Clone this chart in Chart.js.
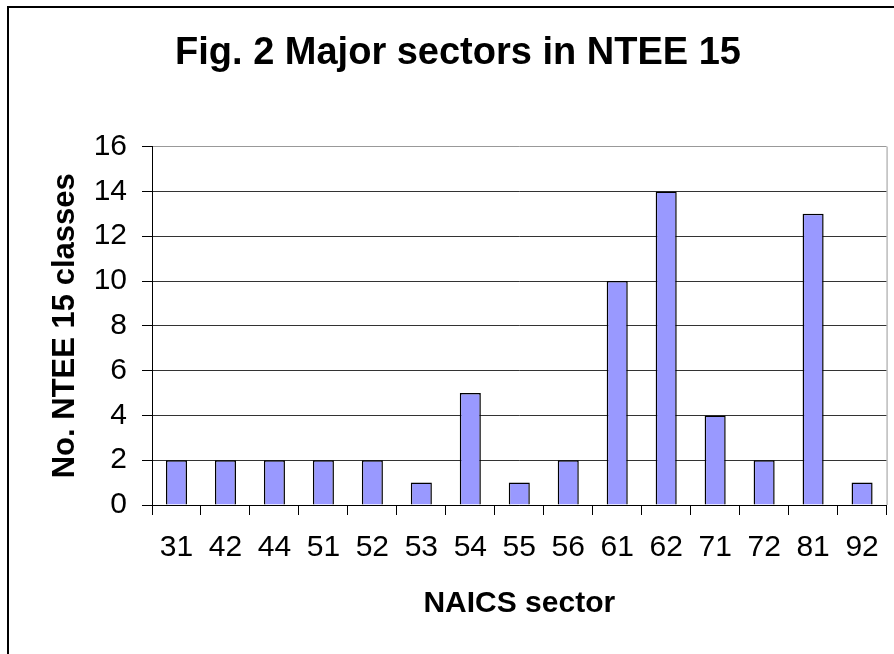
<!DOCTYPE html>
<html>
<head>
<meta charset="utf-8">
<title>Fig. 2 Major sectors in NTEE 15</title>
<script src="https://cdn.jsdelivr.net/npm/chart.js@4"></script>
<style>
  body { margin: 0; background: #fff; }
  canvas { display: block; }
</style>
</head>
<body>
<canvas id="chart" width="894" height="654"></canvas>
<script>
// data
const sectors = ['31', '42', '44', '51', '52', '53', '54', '55', '56', '61', '62', '71', '72', '81', '92'];
const classCounts = [2, 2, 2, 2, 2, 1, 5, 1, 2, 10, 14, 4, 2, 13, 1];
const yTicks = [0, 2, 4, 6, 8, 10, 12, 14, 16];

const FONT = 'Arial, "Liberation Sans", sans-serif';

// white background, outer frame and the grey plot border (Excel style)
const framePlugin = {
    id: 'frame',
    beforeDraw(chart) {
        const ctx = chart.ctx;
        ctx.save();
        ctx.fillStyle = '#fff';
        ctx.fillRect(0, 0, chart.width, chart.height);
        ctx.strokeStyle = '#000';
        ctx.lineWidth = 2;
        ctx.beginPath();
        ctx.moveTo(8, chart.height);
        ctx.lineTo(8, 7);
        ctx.lineTo(chart.width, 7);
        ctx.stroke();
        ctx.restore();
    },
    beforeDatasetsDraw(chart) {
        const { ctx, chartArea } = chart;
        ctx.save();
        ctx.strokeStyle = '#999';
        ctx.lineWidth = 1;
        ctx.beginPath();
        ctx.moveTo(chartArea.right + 0.5, chartArea.top);
        ctx.lineTo(chartArea.right + 0.5, chartArea.bottom);
        ctx.stroke();
        ctx.restore();
    }
};

new Chart(document.getElementById('chart'), {
    type: 'bar',
    data: {
        labels: sectors,
        datasets: [{
            data: classCounts,
            backgroundColor: '#9999ff',
            borderColor: '#000',
            borderWidth: 1.5,
            barPercentage: 0.43,
            categoryPercentage: 1
        }]
    },
    options: {
        responsive: false,
        animation: false,
        layout: { padding: { left: 29, right: 7, top: 0, bottom: 0 } },
        plugins: {
            legend: { display: false },
            tooltip: { enabled: false },
            title: {
                display: true,
                text: 'Fig. 2 Major sectors in NTEE 15',
                color: '#000',
                font: { family: FONT, size: 38, weight: 'bold' },
                padding: { top: 31, bottom: 70 }
            }
        },
        scales: {
            x: {
                offset: true,
                grid: {
                    offset: true,
                    drawOnChartArea: false,
                    drawTicks: true,
                    tickLength: 10,
                    tickColor: '#000'
                },
                border: { color: '#000', width: 1 },
                ticks: {
                    color: '#000',
                    font: { family: FONT, size: 30 },
                    padding: 15,
                    maxRotation: 0,
                    autoSkip: false
                },
                title: {
                    display: true,
                    text: 'NAICS sector',
                    color: '#000',
                    font: { family: FONT, size: 30, weight: 'bold' },
                    padding: { top: 0, bottom: 32 }
                },
                afterFit(scale) { scale.height = 149; }
            },
            y: {
                min: 0,
                max: 16,
                afterBuildTicks(scale) {
                    scale.ticks = yTicks.map(v => ({ value: v }));
                },
                grid: {
                    color: ctx => (ctx.tick && ctx.tick.value === 16) ? '#999' : '#333',
                    tickColor: '#000',
                    tickLength: 10
                },
                border: { color: '#000', width: 1 },
                ticks: {
                    color: '#000',
                    font: { family: FONT, size: 30 },
                    padding: 15
                },
                title: {
                    display: true,
                    text: 'No. NTEE 15 classes',
                    color: '#000',
                    font: { family: FONT, size: 31, weight: 'bold' },
                    padding: { top: 18, bottom: 0 }
                },
                afterFit(scale) { scale.width = 123; }
            }
        }
    },
    plugins: [framePlugin]
});
</script>
</body>
</html>
